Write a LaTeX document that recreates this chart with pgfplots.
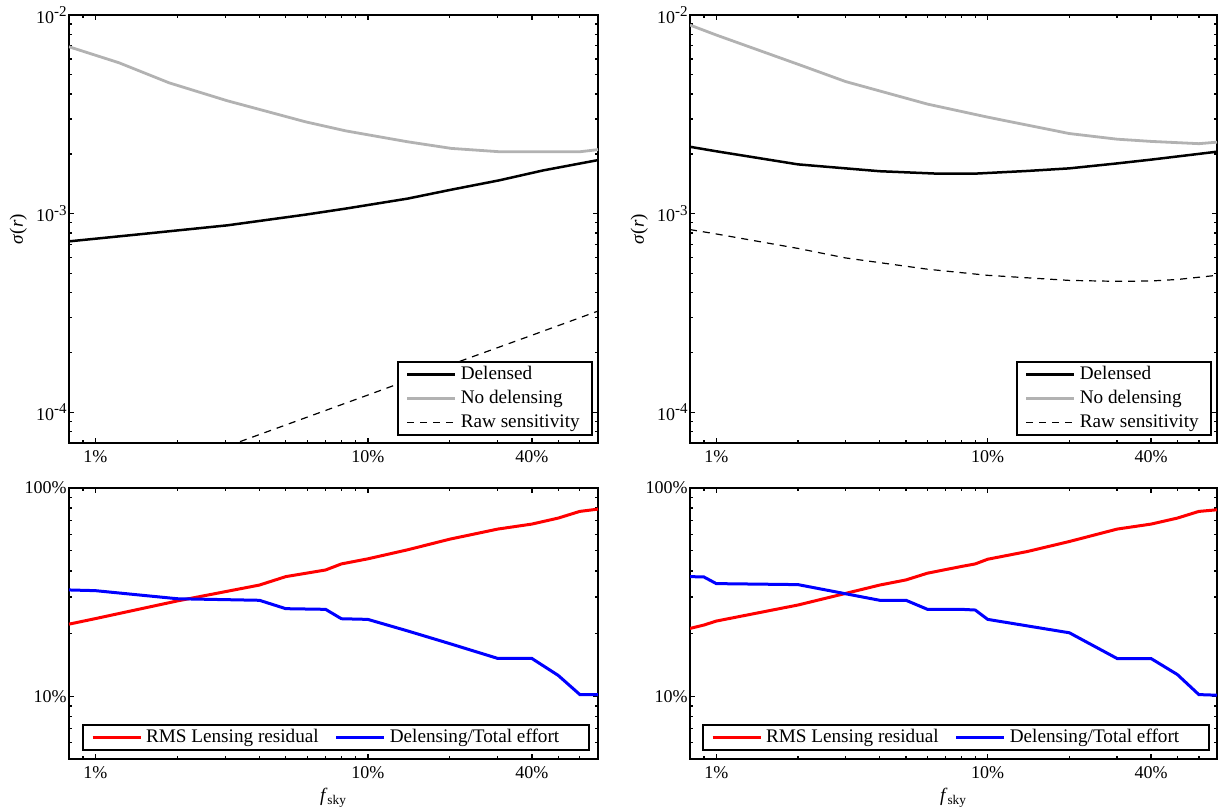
\documentclass[border=0pt]{standalone}
\usepackage{fontspec}
\setmainfont{Liberation Serif}
\usepackage{pgfplots}
\pgfplotsset{compat=1.18}
\definecolor{lgray}{RGB}{178,178,178}

\newcommand{\tp}[1]{\mbox{10\raisebox{0.8ex}{\fontsize{7.5}{8}\selectfont #1}}}

\pgfplotsset{
  every axis/.append style={
    scale only axis,
    xmin=0.008, xmax=0.7,
    axis line style={line width=1.1pt},
    major tick length=2.6pt, minor tick length=1.5pt,
    xtick={0.01,0.1,0.4}, xticklabels={1\%,10\%,40\%},
    minor xtick={0.009,0.02,0.03,0.04,0.05,0.06,0.07,0.08,0.09,0.2,0.3,0.5,0.6},
    tick style={black, line width=0.7pt},
    tick label style={font=\fontsize{9}{10}\selectfont},
    yticklabel style={inner xsep=1pt},
    label style={font=\fontsize{9.5}{11}\selectfont},
    legend cell align=left,
  },
}
\tikzset{
  pdelens/.style={black, line width=1.25pt},
  pnodel/.style={lgray, line width=1.4pt},
  praw/.style={black, line width=0.6pt, dash pattern=on 3.5pt off 3pt},
  prms/.style={red, line width=1.5pt},
  peff/.style={blue, line width=1.5pt},
}

\begin{document}
\begin{tikzpicture}
% ---------------- top left
\begin{loglogaxis}[at={(34.5pt,182pt)}, anchor=south west, width=264.5pt, height=214pt,
    ymin=7e-5, ymax=1e-2, ytick={1e-4,1e-3,1e-2},
    yticklabels={\tp{-4},\tp{-3},\tp{-2}},
    minor ytick={8e-5,9e-5,2e-4,3e-4,4e-4,5e-4,6e-4,7e-4,8e-4,9e-4,2e-3,3e-3,4e-3,5e-3,6e-3,7e-3,8e-3,9e-3},
    ylabel={\textit{σ}(\textit{r})},
    ylabel style={at={(axis description cs:-0.096,0.5)}, anchor=center},
    legend style={at={(axis description cs:0.99,0.0164)}, anchor=south east,
      draw=black, line width=1pt, fill=white, font=\fontsize{9.6}{11}\selectfont,
      inner xsep=4pt, inner ysep=0.2pt},
    legend image code/.code={\draw[#1] (0pt,0pt) -- (24pt,0pt);}]
\addplot[pdelens] coordinates {(0.008,7.25e-4) (0.014,7.83e-4) (0.0305,8.73e-4) (0.059,9.88e-4) (0.083,1.06e-3) (0.14,1.19e-3) (0.2026,1.32e-3) (0.303,1.47e-3) (0.44,1.65e-3) (0.7,1.86e-3)};
\addlegendentry{Delensed}
\addplot[pnodel] coordinates {(0.008,6.92e-3) (0.0122,5.75e-3) (0.0187,4.55e-3) (0.0305,3.70e-3) (0.059,2.90e-3) (0.083,2.61e-3) (0.14,2.30e-3) (0.2026,2.13e-3) (0.303,2.05e-3) (0.44,2.05e-3) (0.603,2.05e-3) (0.7,2.10e-3)};
\addlegendentry{No delensing}
\addplot[praw] coordinates {(0.008,3.45e-5) (0.01,3.86e-5) (0.02,5.46e-5) (0.05,8.63e-5) (0.1,1.22e-4) (0.2,1.73e-4) (0.4,2.44e-4) (0.7,3.23e-4)};
\addlegendentry{Raw sensitivity}
\end{loglogaxis}
% ---------------- top right
\begin{loglogaxis}[at={(345pt,182pt)}, anchor=south west, width=263.5pt, height=214pt,
    ymin=7e-5, ymax=1e-2, ytick={1e-4,1e-3,1e-2},
    yticklabels={\tp{-4},\tp{-3},\tp{-2}},
    minor ytick={8e-5,9e-5,2e-4,3e-4,4e-4,5e-4,6e-4,7e-4,8e-4,9e-4,2e-3,3e-3,4e-3,5e-3,6e-3,7e-3,8e-3,9e-3},
    ylabel={\textit{σ}(\textit{r})},
    ylabel style={at={(axis description cs:-0.096,0.5)}, anchor=center},
    legend style={at={(axis description cs:0.99,0.0164)}, anchor=south east,
      draw=black, line width=1pt, fill=white, font=\fontsize{9.6}{11}\selectfont,
      inner xsep=4pt, inner ysep=0.2pt},
    legend image code/.code={\draw[#1] (0pt,0pt) -- (24pt,0pt);}]
\addplot[pdelens] coordinates {(0.008,2.17e-3) (0.01,2.06e-3) (0.02,1.77e-3) (0.04,1.635e-3) (0.065,1.59e-3) (0.09,1.59e-3) (0.14,1.64e-3) (0.2,1.69e-3) (0.3,1.79e-3) (0.4,1.87e-3) (0.7,2.05e-3)};
\addlegendentry{Delensed}
\addplot[pnodel] coordinates {(0.008,8.90e-3) (0.01,7.93e-3) (0.02,5.65e-3) (0.03,4.62e-3) (0.06,3.56e-3) (0.1,3.06e-3) (0.2,2.53e-3) (0.3,2.37e-3) (0.4,2.31e-3) (0.6,2.25e-3) (0.7,2.29e-3)};
\addlegendentry{No delensing}
\addplot[praw] coordinates {(0.008,8.31e-4) (0.01,7.90e-4) (0.02,6.68e-4) (0.03,5.98e-4) (0.06,5.25e-4) (0.1,4.89e-4) (0.2,4.61e-4) (0.3,4.56e-4) (0.4,4.58e-4) (0.5,4.66e-4) (0.7,4.89e-4)};
\addlegendentry{Raw sensitivity}
\end{loglogaxis}
% ---------------- bottom left
\begin{loglogaxis}[at={(34.5pt,24pt)}, anchor=south west, width=264.5pt, height=135.5pt,
    ymin=0.05, ymax=1, ytick={0.1,1}, yticklabels={10\%,100\%},
    minor ytick={0.06,0.07,0.08,0.09,0.2,0.3,0.4,0.5,0.6,0.7,0.8,0.9},
    xlabel={\textit{f}\textsubscript{sky}},
    xlabel style={at={(axis description cs:0.5,-0.08)}, anchor=north},
    legend columns=2,
    legend style={at={(axis description cs:0.0246,0.0295)}, anchor=south west,
      draw=black, line width=1pt, fill=white, font=\fontsize{9.6}{11}\selectfont,
      inner xsep=4pt, inner ysep=0.2pt,
      /tikz/every even column/.append style={column sep=6pt}},
    legend image code/.code={\draw[#1] (0pt,0pt) -- (24pt,0pt);}]
\addplot[prms] coordinates {(0.008,0.222) (0.01,0.236) (0.02,0.287) (0.04,0.342) (0.05,0.3755) (0.07,0.404) (0.08,0.432) (0.1,0.457) (0.14,0.505) (0.2,0.568) (0.3,0.635) (0.4,0.671) (0.5,0.717) (0.6,0.772) (0.7,0.792)};
\addlegendentry{RMS Lensing residual}
\addplot[peff] coordinates {(0.008,0.324) (0.01,0.3215) (0.02,0.294) (0.04,0.289) (0.05,0.2634) (0.07,0.2615) (0.08,0.2357) (0.1,0.234) (0.14,0.206) (0.2,0.179) (0.3,0.152) (0.4,0.152) (0.5,0.126) (0.6,0.102) (0.7,0.102)};
\addlegendentry{Delensing/Total effort\rule{9pt}{0pt}}
\end{loglogaxis}
% ---------------- bottom right
\begin{loglogaxis}[at={(345pt,24pt)}, anchor=south west, width=263.5pt, height=135.5pt,
    ymin=0.05, ymax=1, ytick={0.1,1}, yticklabels={10\%,100\%},
    minor ytick={0.06,0.07,0.08,0.09,0.2,0.3,0.4,0.5,0.6,0.7,0.8,0.9},
    xlabel={\textit{f}\textsubscript{sky}},
    xlabel style={at={(axis description cs:0.5,-0.08)}, anchor=north},
    legend columns=2,
    legend style={at={(axis description cs:0.0228,0.0295)}, anchor=south west,
      draw=black, line width=1pt, fill=white, font=\fontsize{9.6}{11}\selectfont,
      inner xsep=4pt, inner ysep=0.2pt,
      /tikz/every even column/.append style={column sep=6pt}},
    legend image code/.code={\draw[#1] (0pt,0pt) -- (24pt,0pt);}]
\addplot[prms] coordinates {(0.008,0.2118) (0.009,0.2198) (0.01,0.2297) (0.02,0.2743) (0.03,0.312) (0.04,0.342) (0.05,0.362) (0.06,0.390) (0.08,0.420) (0.09,0.432) (0.1,0.455) (0.14,0.4955) (0.2,0.5535) (0.3,0.635) (0.4,0.671) (0.5,0.717) (0.6,0.772) (0.7,0.786)};
\addlegendentry{RMS Lensing residual}
\addplot[peff] coordinates {(0.008,0.3755) (0.009,0.374) (0.01,0.3475) (0.02,0.3437) (0.04,0.289) (0.05,0.289) (0.06,0.2615) (0.08,0.2615) (0.09,0.2595) (0.1,0.234) (0.2,0.2018) (0.3,0.1518) (0.4,0.1518) (0.5,0.1272) (0.6,0.1019) (0.7,0.1012)};
\addlegendentry{Delensing/Total effort\rule{9pt}{0pt}}
\end{loglogaxis}
\pgfresetboundingbox
\path[use as bounding box] (0,0) rectangle (609pt,403.5pt);
\end{tikzpicture}
\end{document}
